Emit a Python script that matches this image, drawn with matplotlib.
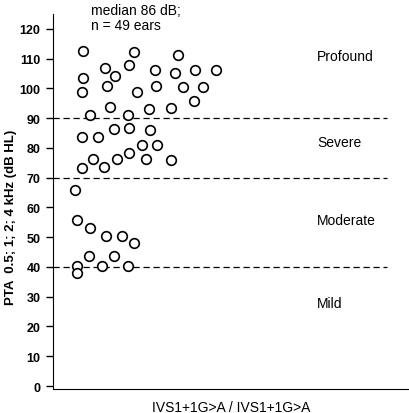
import numpy as np
import matplotlib
matplotlib.use('Agg')
import matplotlib.pyplot as plt

plt.rcParams['font.family'] = ['Liberation Sans', 'DejaVu Sans']

# jittered horizontal position (arbitrary units) and PTA values in dB HL
jitter = [8.5, 22.8, 35.2, 14.6, 21.4, 28.7, 34.3, 39.9, 45.8, 8.5,
          17.4, 15.3, 28.8, 36.4, 42.1, 8.3, 23.5, 39.7, 16.0, 27.0,
          33.1, 10.4, 21.0, 8.2, 12.8, 17.2, 21.4, 27.2, 25.1, 29.3,
          11.3, 18.0, 21.4, 26.0, 33.2, 8.2, 14.4, 6.2, 6.7, 10.4,
          15.0, 19.4, 22.9, 10.0, 17.1, 6.7, 13.8, 21.0, 6.7]
pta = [112.4, 112.2, 111.3, 106.9, 108.0, 106.2, 105.1, 106.0, 106.2, 103.6,
       104.0, 100.9, 100.7, 100.4, 100.4, 98.7, 98.7, 95.6, 93.7, 92.9,
       93.5, 90.9, 90.9, 83.7, 83.7, 86.2, 86.8, 86.1, 81.0, 81.0,
       76.2, 76.2, 78.4, 76.2, 75.9, 73.3, 73.5, 65.8, 55.8, 53.1,
       50.5, 50.5, 48.1, 43.6, 43.6, 40.4, 40.4, 40.4, 37.9]

cutoffs = [90, 70, 40]
grades = ['Profound', 'Severe', 'Moderate', 'Mild']
grade_y = [111, 82.1, 55.9, 27.9]

fig = plt.figure(figsize=(4.1, 4.14), dpi=100)
ax = fig.add_axes([0.129, 0.058, 0.869, 0.906])

ax.scatter(jitter, pta, s=48, facecolors='white', edgecolors='black',
           linewidths=1.2, zorder=3)

ax.hlines(cutoffs, 0, 93.7, colors='black', linestyles=(0, (5, 3)), lw=0.9)

for g, gy in zip(grades, grade_y):
    ax.text(74.1, gy, g, fontsize=10, va='center', ha='left')

ax.text(10.6, 128.6, 'median 86 dB;\nn = 49 ears', fontsize=10,
        va='top', ha='left', linespacing=1.1, clip_on=False)

ax.set_xlim(0, 100)
ax.set_ylim(-1, 125)
ax.set_yticks(np.arange(0, 121, 10))
ax.set_xticks([])
for lbl in ax.get_yticklabels():
    lbl.set_fontweight('bold')
ax.tick_params(axis='y', labelsize=9, length=5, width=1, pad=4)
ax.spines[['right', 'top']].set_visible(False)
ax.set_ylabel('PTA  0.5; 1; 2; 4 kHz (dB HL)', fontsize=9.5, fontweight='bold')
ax.yaxis.set_label_coords(-0.101, 0.459)
ax.set_xlabel('IVS1+1G>A / IVS1+1G>A', fontsize=10, labelpad=8)

fig.savefig('out.png', dpi=100)
